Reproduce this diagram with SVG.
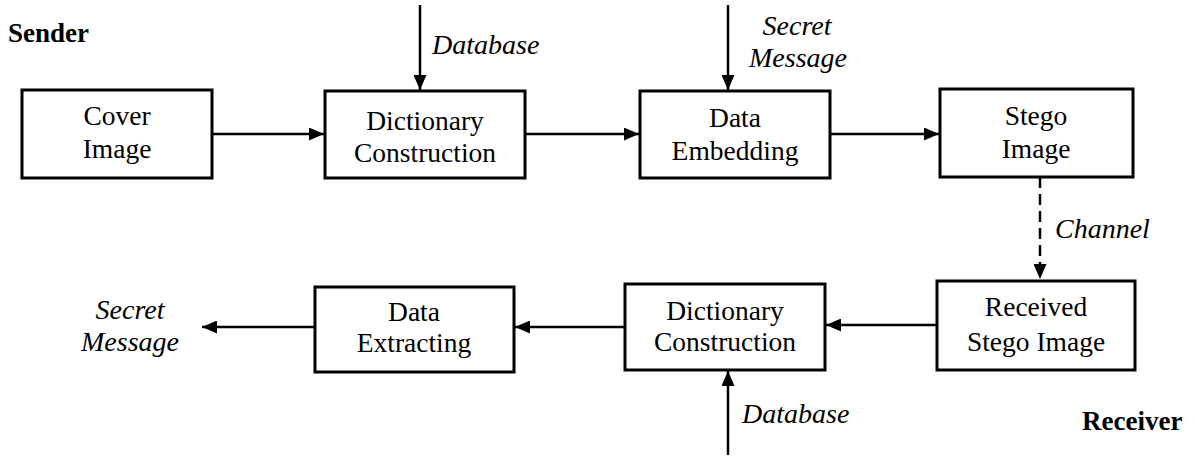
<svg xmlns="http://www.w3.org/2000/svg" width="1195" height="459" viewBox="0 0 1195 459">
<style>
.box{fill:#fff;stroke:#000;stroke-width:3}
.t{font-family:"Liberation Serif","Times New Roman",serif;font-size:27.5px;fill:#000;text-anchor:middle}
.i{font-family:"Liberation Serif","Times New Roman",serif;font-size:28px;font-style:italic;fill:#000}
.b{font-family:"Liberation Serif","Times New Roman",serif;font-size:27px;font-weight:bold;fill:#000}
.c{stroke:#000;stroke-width:2.5;fill:none}
</style>
<defs>
<marker id="ah" markerWidth="15" markerHeight="13" refX="15" refY="6.5" orient="auto" markerUnits="userSpaceOnUse">
<path d="M0,0 L15,6.5 L0,13 Z" fill="#000"/>
</marker>
</defs>
<rect width="1195" height="459" fill="#fff"/>
<text class="b" x="8" y="42">Sender</text>
<text class="b" x="1082" y="430">Receiver</text>
<g id="connectors">
<line class="c" x1="420" y1="5" x2="420" y2="90" marker-end="url(#ah)"/>
<line class="c" x1="728" y1="5" x2="728" y2="90" marker-end="url(#ah)"/>
<line class="c" x1="212" y1="134" x2="324" y2="134" marker-end="url(#ah)"/>
<line class="c" x1="525" y1="134" x2="639" y2="134" marker-end="url(#ah)"/>
<line class="c" x1="830" y1="134" x2="939" y2="134" marker-end="url(#ah)"/>
<line class="c" x1="1040" y1="177" x2="1040" y2="279" stroke-dasharray="11,6" marker-end="url(#ah)"/>
<line class="c" x1="937" y1="325" x2="826" y2="325" marker-end="url(#ah)"/>
<line class="c" x1="624" y1="327" x2="515" y2="327" marker-end="url(#ah)"/>
<line class="c" x1="314" y1="327" x2="202" y2="327" marker-end="url(#ah)"/>
<line class="c" x1="728" y1="455" x2="728" y2="371" marker-end="url(#ah)"/>
<text class="i" x="432" y="54">Database</text>
<text class="i" x="797" y="35" text-anchor="middle">Secret</text>
<text class="i" x="798" y="67" text-anchor="middle">Message</text>
<text class="i" x="1055" y="238">Channel</text>
<text class="i" x="130" y="319" text-anchor="middle">Secret</text>
<text class="i" x="130" y="351" text-anchor="middle">Message</text>
<text class="i" x="742" y="423">Database</text>
</g>
<g id="cover">
<rect class="box" x="22" y="90" width="190" height="88"/>
<text class="t" x="117" y="125">Cover</text>
<text class="t" x="117" y="158">Image</text>
</g>
<g id="dict1">
<rect class="box" x="325" y="91" width="200" height="87"/>
<text class="t" x="425" y="130">Dictionary</text>
<text class="t" x="425" y="162">Construction</text>
</g>
<g id="embed">
<rect class="box" x="640" y="91" width="190" height="87"/>
<text class="t" x="735" y="127">Data</text>
<text class="t" x="735" y="160">Embedding</text>
</g>
<g id="stego">
<rect class="box" x="940" y="89" width="193" height="88"/>
<text class="t" x="1036" y="125">Stego</text>
<text class="t" x="1036" y="158">Image</text>
</g>
<g id="received">
<rect class="box" x="937" y="281" width="198" height="89"/>
<text class="t" x="1036" y="316">Received</text>
<text class="t" x="1036" y="351">Stego Image</text>
</g>
<g id="dict2">
<rect class="box" x="625" y="284" width="200" height="86"/>
<text class="t" x="725" y="320">Dictionary</text>
<text class="t" x="725" y="351">Construction</text>
</g>
<g id="extract">
<rect class="box" x="315" y="287" width="199" height="85"/>
<text class="t" x="414" y="321">Data</text>
<text class="t" x="414" y="352">Extracting</text>
</g>
</svg>
